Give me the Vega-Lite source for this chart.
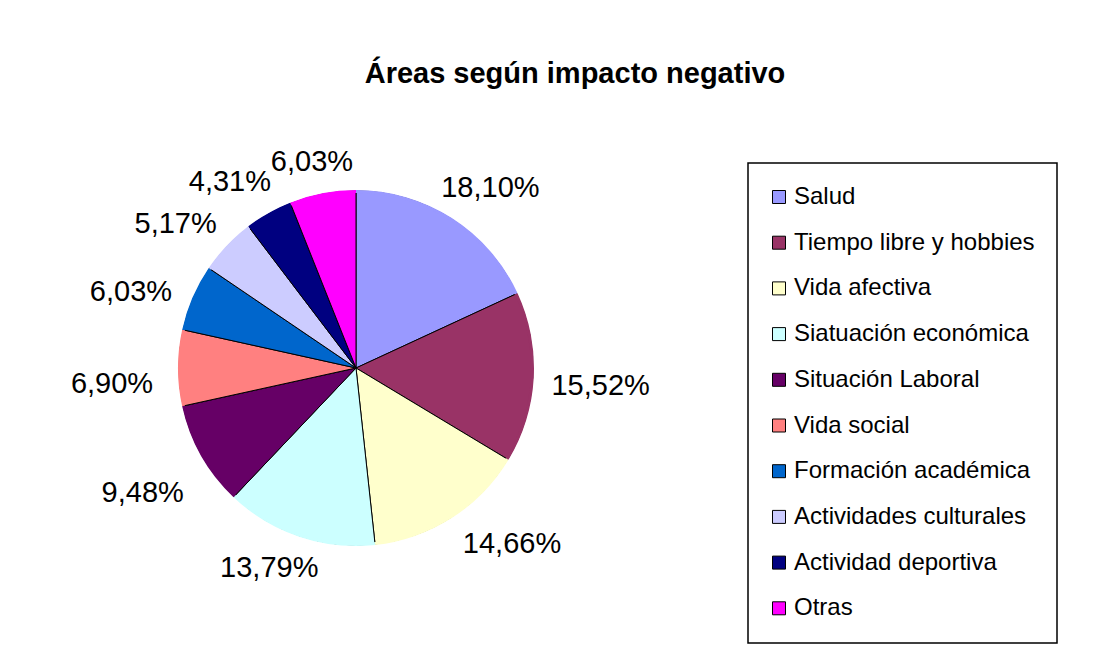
{
  "$schema": "https://vega.github.io/schema/vega-lite/v6.json",
  "autosize": "none",
  "width": 400,
  "height": 400,
  "padding": {"left": 156, "top": 168, "right": 560, "bottom": 95},
  "background": "white",
  "title": {
    "text": "Áreas según impacto negativo",
    "font": "Liberation Sans",
    "fontSize": 29,
    "fontWeight": "bold",
    "color": "black",
    "anchor": "middle",
    "frame": "group",
    "dx": 219,
    "dy": 15,
    "offset": 2,
    "baseline": "alphabetic"
  },
  "data": {
    "values": [
      {"area": "Salud", "pct": 18.10, "label": "18,10%", "orden": 1},
      {"area": "Tiempo libre y hobbies", "pct": 15.52, "label": "15,52%", "orden": 2},
      {"area": "Vida afectiva", "pct": 14.66, "label": "14,66%", "orden": 3},
      {"area": "Siatuación económica", "pct": 13.79, "label": "13,79%", "orden": 4},
      {"area": "Situación Laboral", "pct": 9.48, "label": "9,48%", "orden": 5},
      {"area": "Vida social", "pct": 6.90, "label": "6,90%", "orden": 6},
      {"area": "Formación académica", "pct": 6.03, "label": "6,03%", "orden": 7},
      {"area": "Actividades culturales", "pct": 5.17, "label": "5,17%", "orden": 8},
      {"area": "Actividad deportiva", "pct": 4.31, "label": "4,31%", "orden": 9},
      {"area": "Otras", "pct": 6.03, "label": "6,03%", "orden": 10}
    ]
  },
  "encoding": {
    "theta": {"field": "pct", "type": "quantitative", "stack": true},
    "order": {"field": "orden", "type": "quantitative"},
    "color": {
      "field": "area",
      "type": "nominal",
      "scale": {
        "domain": ["Salud", "Tiempo libre y hobbies", "Vida afectiva", "Siatuación económica", "Situación Laboral", "Vida social", "Formación académica", "Actividades culturales", "Actividad deportiva", "Otras"],
        "range": ["#9999FF", "#993366", "#FFFFCC", "#CCFFFF", "#660066", "#FF8080", "#0066CC", "#CCCCFF", "#000080", "#FF00FF"]
      },
      "legend": {
        "orient": "none",
        "legendX": 592,
        "legendY": -5,
        "title": null,
        "symbolType": "square",
        "symbolSize": 169,
        "symbolStrokeColor": "black",
        "symbolStrokeWidth": 1,
        "symbolOpacity": 1,
        "symbolOffset": -3,
        "labelFont": "Liberation Sans",
        "labelFontSize": 24,
        "labelColor": "black",
        "labelOffset": 3,
        "labelLimit": 400,
        "rowPadding": 21.7,
        "padding": 22,
        "strokeColor": "black"
      }
    }
  },
  "layer": [
    {"mark": {"type": "arc", "outerRadius": 177, "stroke": "black", "strokeWidth": 1}},
    {"mark": {"type": "arc", "innerRadius": 175, "outerRadius": 178}},
    {
      "mark": {"type": "text", "radius": 232, "dx": -12, "dy": 16, "font": "Liberation Sans", "fontSize": 29},
      "encoding": {
        "text": {"field": "label"},
        "color": {"value": "black"},
        "opacity": {"condition": {"test": "indexof([6,7,8,9], datum.orden) >= 0", "value": 1}, "value": 0}
      }
    },
    {
      "mark": {"type": "text", "radius": 245, "dy": 5, "font": "Liberation Sans", "fontSize": 29},
      "encoding": {
        "text": {"field": "label"},
        "color": {"value": "black"},
        "opacity": {"condition": {"test": "indexof([2,5], datum.orden) >= 0", "value": 1}, "value": 0}
      }
    },
    {
      "mark": {"type": "text", "radius": 218, "dx": 17, "dy": 4, "font": "Liberation Sans", "fontSize": 29},
      "encoding": {
        "text": {"field": "label"},
        "color": {"value": "black"},
        "opacity": {"condition": {"test": "datum.orden == 1", "value": 1}, "value": 0}
      }
    },
    {
      "mark": {"type": "text", "radius": 218, "dx": -3, "dy": 8, "font": "Liberation Sans", "fontSize": 29},
      "encoding": {
        "text": {"field": "label"},
        "color": {"value": "black"},
        "opacity": {"condition": {"test": "datum.orden == 10", "value": 1}, "value": 0}
      }
    },
    {
      "mark": {"type": "text", "radius": 218, "dx": -17, "dy": -7, "font": "Liberation Sans", "fontSize": 29},
      "encoding": {
        "text": {"field": "label"},
        "color": {"value": "black"},
        "opacity": {"condition": {"test": "datum.orden == 4", "value": 1}, "value": 0}
      }
    },
    {
      "mark": {"type": "text", "radius": 236, "dx": 29, "dy": -23, "font": "Liberation Sans", "fontSize": 29},
      "encoding": {
        "text": {"field": "label"},
        "color": {"value": "black"},
        "opacity": {"condition": {"test": "datum.orden == 3", "value": 1}, "value": 0}
      }
    }
  ],
  "config": {
    "view": {"stroke": null},
    "legend": {"strokeWidth": 1.5}
  }
}
